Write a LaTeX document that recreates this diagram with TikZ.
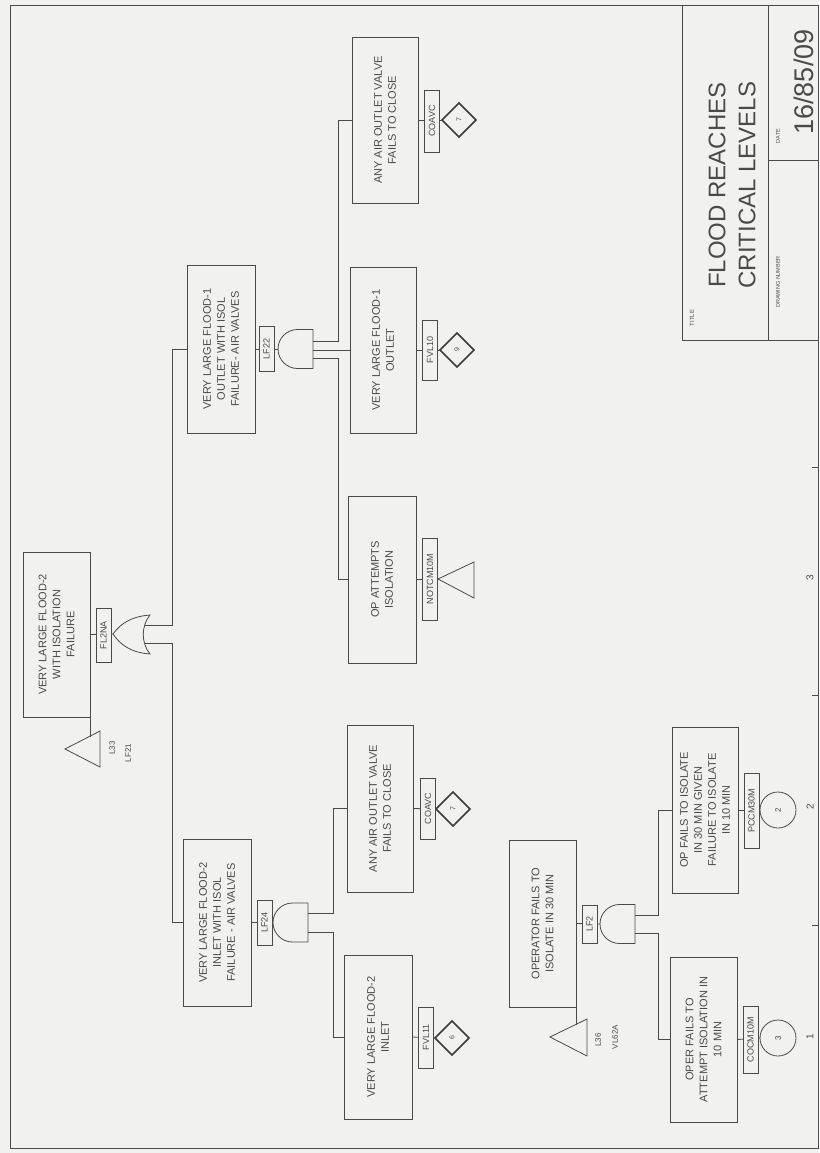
\documentclass[tikz,border=0pt]{standalone}
\usepackage{fontspec}
\setmainfont{Liberation Sans}
\usetikzlibrary{shapes.geometric}
\definecolor{ink}{HTML}{4A4A4A}
\definecolor{paper}{HTML}{F1F1F0}
\newcommand\andgatedraw[2]{%
  \draw[ln] (#1+35,#2-19.5) -- (#1+19.5,#2-19.5) arc[start angle=270,end angle=90,radius=19.5] -- (#1+35,#2+19.5) -- cycle;}
\begin{document}
\begin{tikzpicture}[x=1pt,y=-1pt,
  ln/.style={draw=ink, line width=0.8pt},
  evbox/.style={ln, rotate=90, inner sep=2pt, outer sep=0pt, align=center, text=ink,
     font=\fontsize{11}{14}\selectfont},
  tagbox/.style={ln, fill=paper, rotate=90, inner sep=0.5pt, outer sep=0pt, text=ink,
     font=\fontsize{9}{10}\selectfont, minimum height=15pt},
  dia/.style={draw=ink!80!black, line width=1.6pt, diamond, aspect=1, rotate=90, inner sep=0pt,
     minimum width=34pt, minimum height=34pt, outer sep=0pt, text=ink, font=\fontsize{7}{8}\selectfont},
  circ/.style={ln, circle, rotate=90, minimum size=36pt, inner sep=0pt, outer sep=0pt, text=ink,
     font=\fontsize{8}{9}\selectfont},
  lbl/.style={rotate=90, text=ink, inner sep=0pt, align=center}
]
\useasboundingbox (0,0) rectangle (819,1153);
\fill[paper] (0,0) rectangle (819,1153);
% frame
\draw[ln] (10,5) rectangle (818,1148);
% title block
\draw[ln] (682,5) -- (682,340) -- (818,340);
\draw[ln] (768,5) -- (768,340);
\draw[ln] (768,160) -- (818,160);
\node[lbl, font=\fontsize{24}{26}\selectfont] (t1) at (717,185) {FLOOD REACHES};
\node[lbl, font=\fontsize{24}{26}\selectfont] (t2) at (747,185) {CRITICAL LEVELS};
\node[lbl, font=\fontsize{6}{7}\selectfont] (t3) at (692,318) {TITLE};
\node[lbl, font=\fontsize{5.5}{7}\selectfont] (t4) at (778,282) {DRAWING NUMBER};
\node[lbl, font=\fontsize{5.5}{7}\selectfont] (t5) at (778,136) {DATE};
\node[lbl, font=\fontsize{27}{28}\selectfont] (t6) at (804,82) {16/85/09};
% scale marks
\node[lbl, font=\fontsize{10}{11}\selectfont] (n1) at (810,1037) {1};
\node[lbl, font=\fontsize{10}{11}\selectfont] (n2) at (810,807) {2};
\node[lbl, font=\fontsize{10}{11}\selectfont] (n3) at (810,578) {3};
\draw[ln] (812,925) -- (818,925);
\draw[ln] (812,695) -- (818,695);
\draw[ln] (812,467) -- (818,467);

% ---------- event boxes ----------
\node[evbox, minimum width=165pt, minimum height=67pt] (top) at (56.5,634.5) {VERY LARGE FLOOD-2\\WITH ISOLATION\\FAILURE};
\node[evbox, minimum width=168pt, minimum height=68pt] (bout) at (221,349) {VERY LARGE FLOOD-1\\OUTLET WITH ISOL\\FAILURE- AIR VALVES};
\node[evbox, minimum width=167pt, minimum height=68pt] (bin) at (217,922.5) {VERY LARGE FLOOD-2\\INLET WITH ISOL\\FAILURE - AIR VALVES};
\node[evbox, minimum width=166pt, minimum height=66pt] (aava) at (385,120) {ANY AIR OUTLET VALVE\\FAILS TO CLOSE};
\node[evbox, minimum width=166pt, minimum height=66pt] (flout) at (383,350) {VERY LARGE FLOOD-1\\OUTLET};
\node[evbox, minimum width=167pt, minimum height=68pt] (opatt) at (382,579.5) {OP ATTEMPTS\\ISOLATION};
\node[evbox, minimum width=167pt, minimum height=66pt] (aavb) at (380,808.5) {ANY AIR OUTLET VALVE\\FAILS TO CLOSE};
\node[evbox, minimum width=164pt, minimum height=68pt] (flin) at (378,1037) {VERY LARGE FLOOD-2\\INLET};
\node[evbox, minimum width=167pt, minimum height=67pt] (opf) at (542.5,923.5) {OPERATOR FAILS TO\\ISOLATE IN 30 MIN};
\node[evbox, minimum width=166pt, minimum height=66pt] (opg) at (705,810) {OP FAILS TO ISOLATE\\IN 30 MIN GIVEN\\FAILURE TO ISOLATE\\IN 10 MIN};
\node[evbox, minimum width=165pt, minimum height=67pt] (oper) at (703.5,1039.5) {OPER FAILS TO\\ATTEMPT ISOLATION IN\\10 MIN};

% ---------- gates ----------
% OR gate FL2NA
\coordinate (orin) at (113,634);
\draw[ln] (orin) .. controls (124,619) and (138,616) .. (150,615)
  .. controls (141,626) and (141,643) .. (150,654)
  .. controls (138,653) and (124,650) .. (orin);
\coordinate (ora) at (145,625);
\coordinate (orb) at (145,643);
% AND gates
\andgatedraw{278}{349}
\coordinate (g22in) at (278,349);
\coordinate (g22a) at (313,341);
\coordinate (g22b) at (313,350);
\coordinate (g22c) at (313,358);
\andgatedraw{273}{922.5}
\coordinate (g24in) at (273,922.5);
\coordinate (g24a) at (308,913);
\coordinate (g24b) at (308,932);
\andgatedraw{600}{924}
\coordinate (g3in) at (600,924);
\coordinate (g3a) at (635,915);
\coordinate (g3b) at (635,933);

% ---------- connectors ----------
\draw[ln] (top.south) -- (orin);
\draw[ln] (ora) -- ++(27,0) |- (bout.north);
\draw[ln] (orb) -- ++(27,0) |- (bin.north);
\draw[ln] (bout.south) -- (g22in);
\draw[ln] (g22a) -- ++(25,0) |- (aava.north);
\draw[ln] (g22b) -- (flout.north);
\draw[ln] (g22c) -- ++(25,0) |- (opatt.north);
\draw[ln] (bin.south) -- (g24in);
\draw[ln] (g24a) -- ++(25,0) |- (aavb.north);
\draw[ln] (g24b) -- ++(25,0) |- (flin.north);
\draw[ln] (opf.south) -- (g3in);
\draw[ln] (g3a) -- ++(23,0) |- (opg.north);
\draw[ln] (g3b) -- ++(23,0) |- (oper.north);

% ---------- leaves ----------
\node[dia] (d1) at (459,120) {7};
\node[dia] (d2) at (457,350) {9};
\node[dia] (d3) at (453,809) {7};
\node[dia] (d4) at (452,1038) {6};
\node[circ] (c2) at (778,810) {2};
\node[circ] (c3) at (778,1038) {3};
\coordinate (tra) at (438,579);
\draw[ln] (tra) -- (474,562) -- (474,598) -- cycle;
\draw[ln] (aava.south) -- (d1.north);
\draw[ln] (flout.south) -- (d2.north);
\draw[ln] (opatt.south) -- (tra);
\draw[ln] (aavb.south) -- (d3.north);
\draw[ln] (flin.south) -- (d4.north);
\draw[ln] (opg.south) -- (c2.north);
\draw[ln] (oper.south) -- (c3.north);

% ---------- tags ----------
\node[tagbox, minimum width=54pt] (tg1) at (103.5,635) {FL2NA};
\node[tagbox, minimum width=45pt] (tg2) at (266.5,349) {LF22};
\node[tagbox, minimum width=45pt] (tg3) at (264.5,922.5) {LF24};
\node[tagbox, minimum width=38pt] (tg4) at (589.5,924) {LF2};
\node[tagbox, minimum width=62pt] (tg5) at (432,121) {COAVC};
\node[tagbox, minimum width=60pt] (tg6) at (430,350) {FVL10};
\node[tagbox, minimum width=82pt] (tg7) at (430,579) {NOTCM10M};
\node[tagbox, minimum width=61pt] (tg8) at (428,808.5) {COAVC};
\node[tagbox, minimum width=61pt] (tg9) at (426,1037.5) {FVL11};
\node[tagbox, minimum width=75pt] (tg10) at (751.5,810.5) {PCCM30M};
\node[tagbox, minimum width=67pt] (tg11) at (750.5,1039.5) {COCM10M};

% ---------- transfer triangles ----------
\coordinate (tx1) at (65,749);
\draw[ln] (tx1) -- (100,731) -- (100,767) -- cycle;
\draw[ln] (top.south west) -- ++(0,20);
\node[lbl, font=\fontsize{8}{9}\selectfont] (l33) at (112,748) {L33};
\node[lbl, font=\fontsize{8}{9}\selectfont] (lf21) at (128,753) {LF21};
\coordinate (tx2) at (550,1037);
\draw[ln] (tx2) -- (587,1019) -- (587,1056) -- cycle;
\draw[ln] (opf.south west) -- ++(0,18);
\node[lbl, font=\fontsize{8}{9}\selectfont] (l36) at (598,1040) {L36};
\node[lbl, font=\fontsize{8}{9}\selectfont] (vl) at (615,1037) {VL62A};
\end{tikzpicture}
\end{document}
